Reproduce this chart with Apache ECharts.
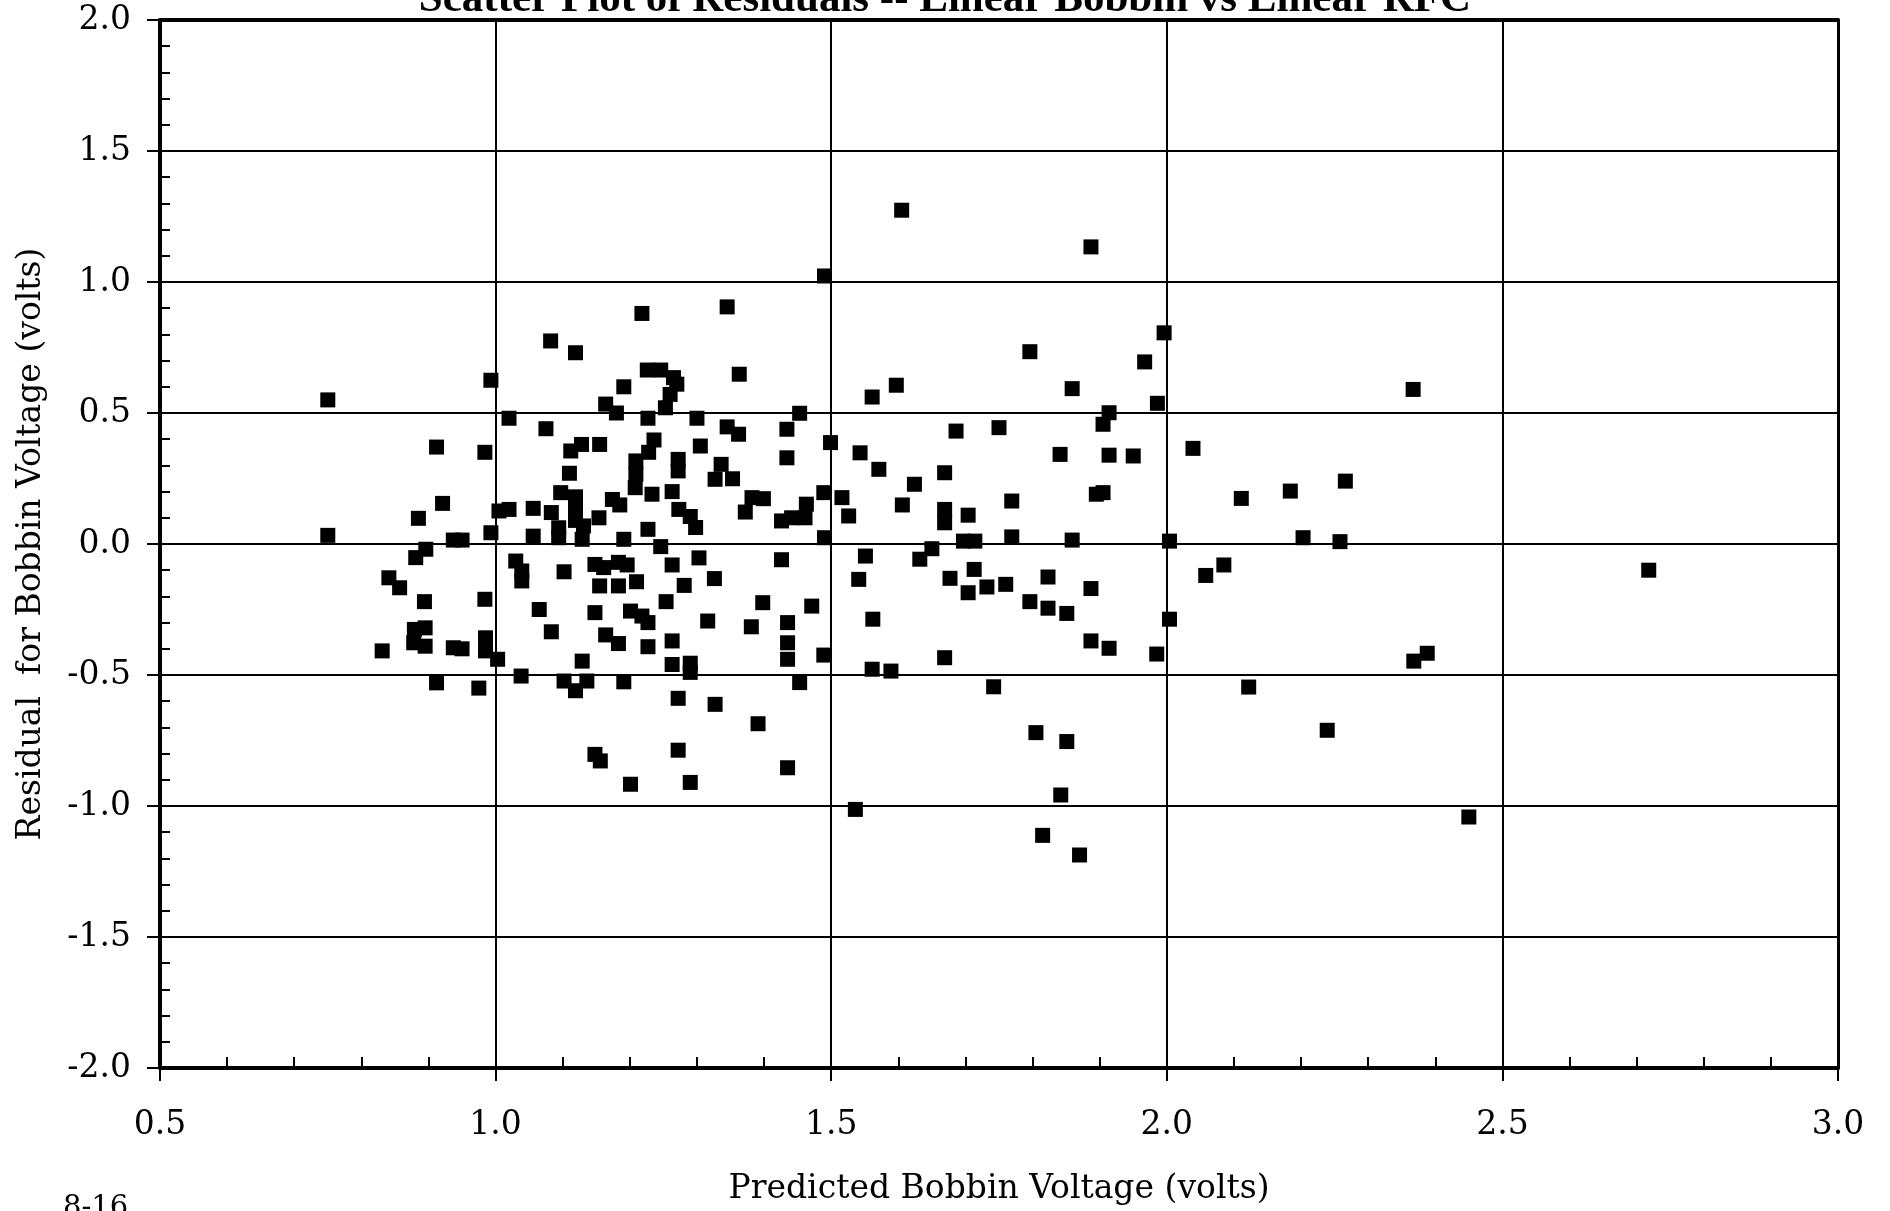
<!DOCTYPE html>
<html><head><meta charset="utf-8">
<script src="https://cdn.jsdelivr.net/npm/echarts@6/dist/echarts.min.js"></script>
<style>html,body{margin:0;padding:0;background:#fff}#c{width:1890px;height:1211px}</style>
</head><body><div id="c"></div>
<script>
const chartTitle = 'Scatter Plot of Residuals -- Linear Bobbin vs Linear RFC';
const xAxisTitle = 'Predicted Bobbin Voltage (volts)';
const yAxisTitle = 'Residual  for Bobbin Voltage (volts)';
const pageNote = '8-16';
const xRange = [0.5, 3.0];
const yRange = [-2.0, 2.0];
const tickStep = 0.5;

const predictedVoltage = [
  0.75,0.75,0.831,0.841,0.857,0.879,0.895,0.878,0.895,0.885,
  0.881,0.896,0.894,0.912,0.912,0.921,0.937,0.95,0.937,0.95,
  0.975,0.984,0.984,0.985,0.985,0.993,0.993,1.003,1.005,
  1.02,1.02,1.03,1.039,1.039,1.038,1.056,1.056,1.065,1.075,
  1.082,1.083,1.083,1.094,1.094,1.097,1.102,1.102,1.11,1.112,
  1.119,1.119,1.119,1.119,1.128,1.131,1.129,1.129,1.119,1.136,
  1.148,1.161,1.148,1.148,1.156,1.154,1.155,1.155,1.164,1.164,
  1.174,1.185,1.18,1.183,1.196,1.183,1.183,1.191,1.191,1.191,
  1.201,1.201,1.208,1.209,1.209,1.21,1.218,1.218,1.227,1.227,
  1.227,1.227,1.228,1.233,1.236,1.226,1.246,1.265,1.27,1.26,
  1.253,1.246,1.254,1.263,1.263,1.263,1.263,1.272,1.272,1.272,
  1.272,1.273,1.281,1.29,1.29,1.29,1.29,1.298,1.30,1.303,
  1.305,1.316,
  1.605,1.887,1.49,1.345,1.796,1.967,1.363,1.597,1.561,1.859,
  1.914,1.905,1.453,1.345,1.362,1.434,1.686,1.75,1.499,1.434,
  1.543,1.336,1.327,1.353,1.571,1.669,1.624,1.841,1.914,1.95,
  1.905,1.895,1.769,1.382,1.399,1.372,1.489,1.516,1.526,1.463,
  1.461,1.441,1.426,1.606,1.669,1.669,1.704,1.49,1.65,1.632,
  1.697,1.714,1.769,1.859,1.551,1.541,1.677,1.713,1.704,1.732,
  1.76,1.823,1.887,1.326,1.426,1.398,1.381,1.471,1.435,1.435,
  1.435,1.489,1.453,1.327,1.391,1.435,1.536,1.562,1.561,1.589,
  1.669,1.796,1.823,1.851,1.887,1.914,1.985,1.742,1.805,1.851,
  1.842,1.815,1.87,
  1.996,1.986,2.367,2.039,2.111,2.184,2.266,2.004,2.203,2.258,
  2.085,2.058,2.004,2.122,2.239,2.368,2.388,2.45,2.718
];
const residualVoltage = [
  0.55,0.033,-0.408,-0.129,-0.167,-0.326,-0.32,-0.377,-0.39,0.098,
  -0.052,-0.02,-0.22,0.37,-0.53,0.155,0.015,0.015,-0.396,-0.40,
  -0.55,0.35,-0.211,-0.358,-0.408,0.625,0.043,-0.44,0.126,
  0.48,0.132,-0.065,-0.103,-0.141,-0.504,0.136,0.03,-0.25,0.44,
  0.775,0.12,-0.335,0.062,0.024,0.196,-0.106,-0.523,0.27,0.355,
  0.73,0.18,0.14,0.09,0.38,0.069,0.018,-0.447,-0.56,-0.523,
  -0.078,-0.09,-0.262,-0.803,-0.828,0.10,0.38,-0.16,0.534,-0.347,
  0.17,0.149,0.50,-0.07,-0.08,-0.16,-0.38,0.60,0.018,-0.526,
  -0.256,-0.917,0.215,0.317,0.266,-0.144,0.88,-0.275,0.48,0.056,
  -0.30,-0.392,0.35,0.19,0.397,0.664,0.664,0.635,0.61,0.571,
  0.52,-0.01,-0.22,0.20,-0.08,-0.37,-0.46,0.323,0.279,-0.589,
  -0.787,0.132,-0.158,0.105,-0.455,-0.49,-0.91,0.063,0.48,-0.053,
  0.374,-0.294,
  1.274,1.134,1.023,0.905,0.734,0.695,0.648,0.606,0.561,0.593,
  0.501,0.457,0.499,0.447,0.419,0.438,0.431,0.444,0.387,0.329,
  0.348,0.304,0.247,0.249,0.285,0.272,0.228,0.342,0.339,0.336,
  0.196,0.19,0.164,0.177,0.173,0.122,0.196,0.177,0.107,0.152,
  0.10,0.10,0.088,0.149,0.132,0.081,0.11,0.024,-0.018,-0.058,
  0.011,0.011,0.027,0.015,-0.046,-0.135,-0.131,-0.097,-0.186,-0.164,
  -0.154,-0.126,-0.17,-0.132,-0.06,-0.224,-0.316,-0.237,-0.30,-0.377,
  -0.44,-0.424,-0.529,-0.612,-0.686,-0.854,-1.013,-0.287,-0.478,-0.485,
  -0.434,-0.22,-0.245,-0.265,-0.37,-0.398,-0.42,-0.545,-0.72,-0.754,
  -0.958,-1.112,-1.187,
  0.806,0.537,0.59,0.365,0.174,0.202,0.24,0.011,0.024,0.009,
  -0.08,-0.12,-0.287,-0.546,-0.711,-0.447,-0.417,-1.042,-0.10
];

const points = predictedVoltage.map((x, i) => [x, residualVoltage[i]]);
const serif = 'DejaVu Serif';
const fmt = v => v.toFixed(1);

const chart = echarts.init(document.getElementById('c'), null, {renderer: 'canvas'});
chart.setOption({
  animation: false,
  backgroundColor: '#ffffff',
  title: {
    text: chartTitle, left: 'center', top: -27,
    textStyle: {fontFamily: 'Liberation Serif', fontWeight: 'bold', fontSize: 43, color: '#000'}
  },
  graphic: [{
    type: 'text', left: 63, top: 1194,
    style: {text: pageNote, font: '29px "DejaVu Serif"', fill: '#000'}
  }],
  grid: {left: 160, right: 52, top: 20, bottom: 143, containLabel: false},
  xAxis: [{
    type: 'value', min: xRange[0], max: xRange[1], interval: tickStep,
    axisLine: {show: true, onZero: false, lineStyle: {color: '#000', width: 4}},
    axisTick: {show: true, length: 13, lineStyle: {color: '#000', width: 2}},
    minorTick: {show: true, splitNumber: 5, length: -11, lineStyle: {color: '#000', width: 2}},
    splitLine: {show: true, lineStyle: {color: '#000', width: 2}},
    axisLabel: {margin: 41, fontFamily: serif, fontSize: 33, color: '#000', formatter: fmt, showMinLabel: true, showMaxLabel: true},
    name: xAxisTitle, nameLocation: 'middle', nameGap: 105,
    nameTextStyle: {fontFamily: serif, fontSize: 33, color: '#000'}
  }, {
    type: 'value', position: 'top', min: xRange[0], max: xRange[1], interval: tickStep,
    axisLine: {show: true, onZero: false, lineStyle: {color: '#000', width: 4}},
    axisTick: {show: false}, axisLabel: {show: false}, splitLine: {show: false}
  }],
  yAxis: [{
    type: 'value', min: yRange[0], max: yRange[1], interval: tickStep,
    axisLine: {show: true, onZero: false, lineStyle: {color: '#000', width: 4}},
    axisTick: {show: true, length: 13, lineStyle: {color: '#000', width: 2}},
    minorTick: {show: true, splitNumber: 5, length: -10, lineStyle: {color: '#000', width: 2}},
    splitLine: {show: true, lineStyle: {color: '#000', width: 2}},
    axisLabel: {margin: 29, fontFamily: serif, fontSize: 33, color: '#000', formatter: fmt, showMinLabel: true, showMaxLabel: true},
    name: yAxisTitle, nameLocation: 'middle', nameGap: 112, nameRotate: 90,
    nameTextStyle: {fontFamily: serif, fontSize: 33, color: '#000'}
  }, {
    type: 'value', position: 'right', min: yRange[0], max: yRange[1], interval: tickStep,
    axisLine: {show: true, onZero: false, lineStyle: {color: '#000', width: 3}},
    axisTick: {show: false}, axisLabel: {show: false}, splitLine: {show: false}
  }],
  series: [{
    type: 'scatter', xAxisIndex: 0, yAxisIndex: 0,
    symbol: 'rect', symbolSize: 15,
    itemStyle: {color: '#000', opacity: 1},
    data: points
  }]
});
</script>
</body></html>
